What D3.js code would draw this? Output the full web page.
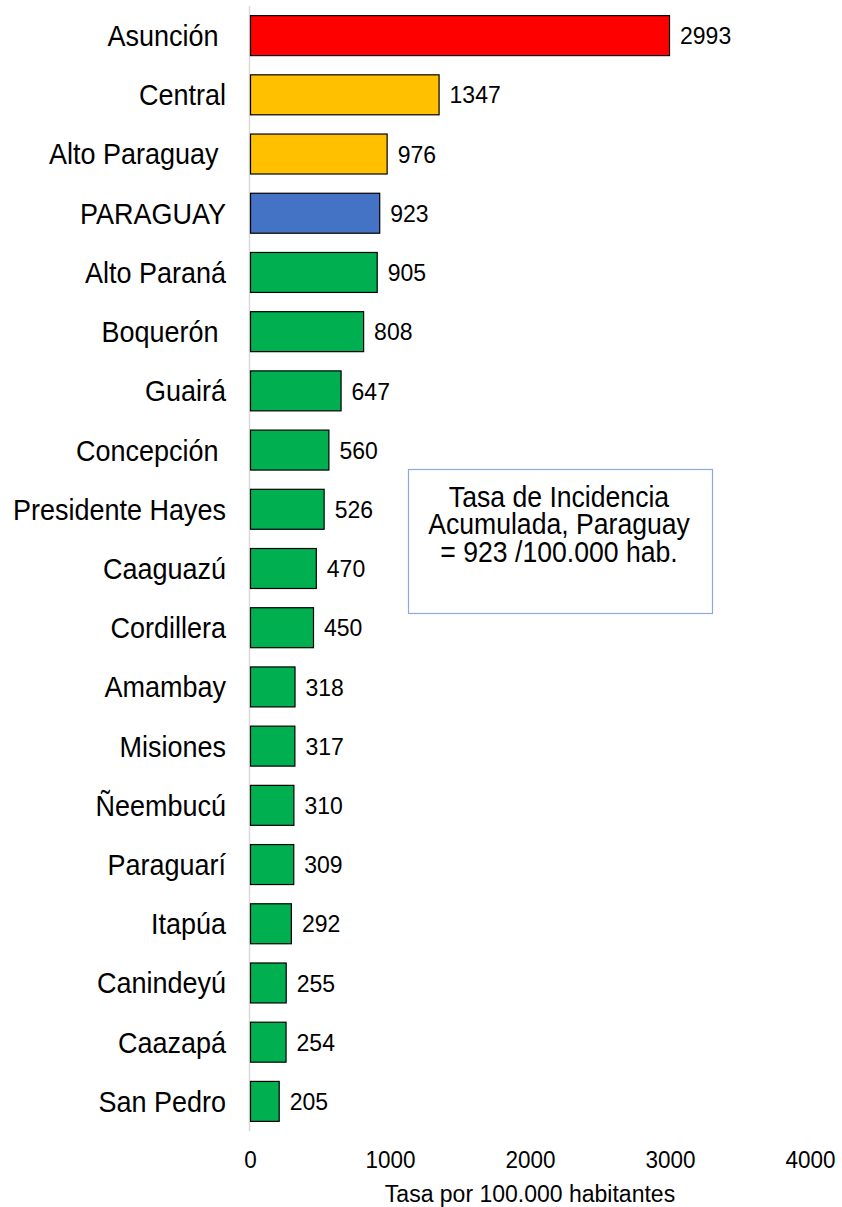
<!DOCTYPE html>
<html><head><meta charset="utf-8">
<script src="https://cdn.jsdelivr.net/npm/d3@7"></script>
<style>
html,body{margin:0;padding:0;background:#fff;}
svg{display:block;font-family:"Liberation Sans",Arial,sans-serif;}
text{white-space:pre;}
</style></head>
<body><svg id="c" width="842" height="1207"></svg>
<script>
const categories = ["Asunción ","Central","Alto Paraguay ","PARAGUAY","Alto Paraná","Boquerón ","Guairá","Concepción ","Presidente Hayes","Caaguazú","Cordillera","Amambay","Misiones","Ñeembucú","Paraguarí","Itapúa","Canindeyú","Caazapá","San Pedro"];
const values = [2993,1347,976,923,905,808,647,560,526,470,450,318,317,310,309,292,255,254,205];
const groups = ["max","high","high","country","low","low","low","low","low","low","low","low","low","low","low","low","low","low","low"];
const groupColors = {max:"#FF0000", high:"#FFC000", country:"#4472C4", low:"#00B050"};
const xTicks = [0,1000,2000,3000,4000];
const xTitle = "Tasa por 100.000 habitantes";
const noteLines = ["Tasa de Incidencia","Acumulada, Paraguay","= 923 /100.000 hab."];

const svg = d3.select("#c");
const x = d3.scaleLinear().domain([0,4000]).range([250,810]);
const y = d3.scaleBand().domain(categories).range([6,1131]).paddingInner(0.325).paddingOuter(0.1625);

function label(sel, px, py, fs, s){
  return sel.attr("transform",(d,i)=>`translate(${px(d,i)},${py(d,i)}) scale(1,${s})`)
    .attr("font-size",fs).attr("fill","#000");
}

svg.append("line").attr("x1",249.5).attr("x2",249.5).attr("y1",y.range()[0]).attr("y2",y.range()[1])
  .attr("stroke","#D9D9D9").attr("stroke-width",1.5);

const data = categories.map((c,i)=>({c, v:values[i], g:groups[i]}));

svg.selectAll("rect.bar").data(data).enter().append("rect").attr("class","bar")
  .attr("x",x(0)+0.5).attr("y",d=>y(d.c))
  .attr("width",d=>x(d.v)-x(0)).attr("height",y.bandwidth())
  .attr("fill",d=>groupColors[d.g]).attr("stroke","#000").attr("stroke-width",1.2);

const mid = d=>y(d.c)+y.bandwidth()/2;

label(svg.selectAll("text.val").data(data).enter().append("text").attr("class","val"),
  d=>x(d.v)+11, d=>mid(d)+0.716*23*1.05/2, 23, 1.05).text(d=>d.v);

label(svg.selectAll("text.cat").data(data).enter().append("text").attr("class","cat").attr("text-anchor","end"),
  d=>226, d=>mid(d)+0.716*27*1.08/2, 27, 1.08).text(d=>d.c);

label(svg.selectAll("text.tick").data(xTicks).enter().append("text").attr("class","tick").attr("text-anchor","middle"),
  d=>x(d)+0.5, d=>1168, 22.5, 1.04).text(d=>d);

svg.append("text").attr("x",530).attr("y",1202).attr("text-anchor","middle")
  .attr("font-size",23).attr("fill","#000").text(xTitle);

// annotation box
svg.append("rect").attr("x",408.5).attr("y",469.5).attr("width",304).attr("height",144)
  .attr("fill","#fff").attr("stroke","#8EA9DB").attr("stroke-width",1.2);
const note = svg.append("text").attr("text-anchor","middle")
  .attr("transform","translate(559,506.7) scale(1,1.1)")
  .attr("font-size",26.6).attr("fill","#000");
note.selectAll("tspan").data(noteLines).enter().append("tspan")
  .attr("x",0).attr("y",(d,i)=>i*27.7/1.1)
  .text(d=>d);
</script></body></html>
